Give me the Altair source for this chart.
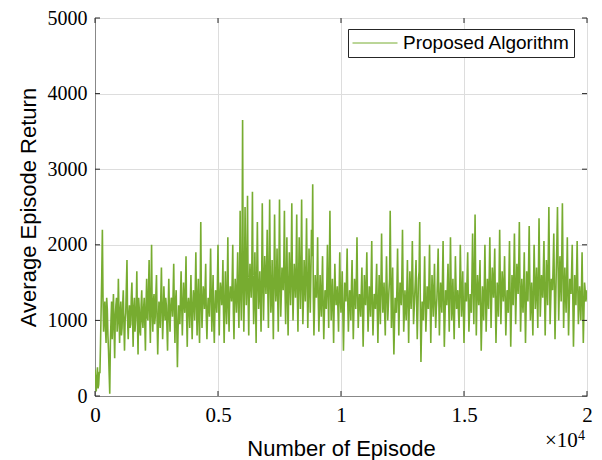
import altair as alt
import pandas as pd

returns = [
    350, 60, 380, 150, 300, 1150, 2200, 850, 1250, 700, 1150, 600, 30, 1000, 750, 1350, 500, 1200, 850, 1550,
    700, 1250, 900, 1400, 600, 1100, 1800, 750, 1200, 950, 1500, 650, 1300, 1000, 1650, 550, 1150, 800, 1400, 900,
    1300, 600, 1550, 1000, 1800, 700, 2000, 850, 1350, 1050, 1600, 550, 1250, 900, 1700, 750, 1450, 1000, 1200, 600,
    1550, 850, 1300, 1050, 1750, 700, 1400, 380, 1200, 950, 1650, 800, 1500, 1100, 1850, 650, 1300, 900, 1600, 750,
    1400, 1000, 1900, 800, 1550, 700, 2300, 900, 1450, 1150, 1750, 750, 1300, 1050, 1950, 850, 1600, 700, 1400, 1100,
    2000, 800, 1500, 1200, 1800, 700, 1650, 950, 2100, 850, 1450, 1250, 2000, 750, 1550, 1100, 1900, 900, 2450, 1000,
    3650, 850, 2500, 1200, 2650, 800, 1750, 1300, 2700, 950, 1900, 700, 2300, 1150, 1650, 850, 2550, 1000, 1850, 1350,
    2200, 900, 2600, 1100, 1800, 750, 2400, 1250, 1950, 850, 2600, 1050, 1700, 1400, 2450, 950, 2100, 800, 1900, 1200,
    2550, 1000, 1750, 1300, 2400, 850, 2100, 1150, 2600, 950, 1800, 1250, 2350, 900, 1950, 1100, 2200, 2800, 800, 1600,
    1300, 2100, 850, 1600, 1050, 1850, 750, 1400, 1150, 2000, 900, 2450, 1000, 1550, 700, 1750, 1200, 1450, 850, 1900,
    1100, 1650, 600, 1500, 1250, 1950, 850, 1400, 1000, 1800, 750, 1550, 1150, 2100, 900, 1350, 1050, 1700, 650, 1600,
    1200, 1900, 850, 1450, 1050, 2050, 800, 1350, 1150, 1750, 700, 1600, 950, 2150, 1100, 1500, 800, 1850, 1000, 1400,
    2450, 900, 1700, 550, 1300, 1100, 1950, 800, 1500, 1200, 2200, 850, 1400, 1000, 1800, 700, 1650, 1150, 2050, 950,
    1350, 1800, 750, 1550, 2300, 450, 1250, 1000, 1850, 850, 1450, 1150, 2000, 700, 1600, 1050, 1750, 900, 1300, 1950,
    800, 1500, 1100, 2050, 650, 1400, 1200, 1750, 850, 2100, 1000, 1550, 750, 1850, 1150, 1400, 900, 2000, 1050, 1650,
    700, 1500, 1250, 1900, 850, 1350, 1100, 2150, 950, 2400, 800, 1600, 1200, 1800, 600, 1450, 1000, 2000, 850, 1550,
    1150, 2100, 900, 1700, 1300, 1950, 700, 1500, 1050, 2200, 950, 1650, 1250, 1850, 800, 1400, 1100, 2050, 650, 1600,
    1200, 2150, 950, 1750, 1350, 2300, 850, 1550, 1100, 1900, 700, 1650, 1250, 2250, 1000, 1500, 800, 2000, 1150, 1700,
    900, 2350, 1050, 1600, 1300, 2050, 800, 1800, 1200, 2500, 950, 1550, 1400, 2150, 750, 1650, 2500, 1000, 1850, 1250,
    2550, 900, 1700, 1100, 2100, 800, 1550, 1350, 2000, 650, 1600, 1200, 2050, 950, 1450, 1000, 1900, 700, 1500, 1250,
    1400,
]
# Returns read between the samples above (episodes 25, 75, 125, ...)
returns_between = [
    200, 250, 100, 320, 700, 1600, 1300, 1100, 900, 1300, 800, 300, 700, 1250, 1050, 900, 1050, 1300, 1000, 1100,
    1100, 800, 1200, 950, 1000, 1450, 1000, 1050, 900, 1300, 1050, 1150, 850, 1200, 1000, 1300, 850, 1200, 1000, 1150,
    950, 1200, 1050, 1400, 1100, 1300, 1100, 1250, 950, 1350, 1000, 950, 1100, 1300, 1150, 1050, 1200, 1300, 900, 1150,
    1100, 1150, 1250, 1350, 1100, 1250, 900, 850, 1100, 1300, 1200, 1150, 1250, 1400, 1050, 1200, 1150, 1250, 1100, 1150,
    1250, 1400, 1200, 1300, 1000, 1350, 1250, 1200, 1350, 1400, 1050, 1100, 1200, 1450, 1300, 1250, 1000, 1150, 1300, 1450,
    1250, 1300, 1400, 1350, 1100, 1200, 1250, 1400, 1200, 1300, 1400, 1500, 1100, 1300, 1350, 1450, 1250, 1500, 1350, 1600,
    1500, 1400, 1700, 1650, 1300, 1450, 1500, 1700, 1450, 1300, 1250, 1600, 1550, 1350, 1300, 1500, 1650, 1450, 1600, 1650,
    1400, 1650, 1550, 1300, 1250, 1500, 1600, 1450, 1350, 1600, 1550, 1350, 1600, 1750, 1400, 1500, 1300, 1450, 1550, 1700,
    1500, 1400, 1550, 1700, 1350, 1500, 1600, 1700, 1450, 1300, 1550, 1700, 1500, 1350, 1550, 1600, 1850, 1300, 1200, 1350,
    1500, 1300, 1200, 1250, 1450, 1200, 1100, 1300, 1500, 1350, 1600, 1450, 1300, 1150, 1250, 1400, 1300, 1150, 1400, 1300,
    1350, 1100, 1050, 1400, 1550, 1250, 1150, 1300, 1450, 1200, 1150, 1400, 1550, 1350, 1150, 1250, 1400, 1150, 1100, 1350,
    1500, 1250, 1150, 1300, 1550, 1200, 1100, 1300, 1450, 1150, 1200, 1300, 1500, 1450, 1300, 1100, 1350, 1400, 1200, 1550,
    1550, 1300, 1000, 950, 1200, 1450, 1300, 1200, 1350, 1600, 1400, 1100, 1200, 1350, 1250, 1200, 1400, 1500, 1450, 1150,
    1550, 1200, 1150, 1650, 1200, 900, 1150, 1400, 1300, 1100, 1350, 1500, 1250, 1200, 1350, 1400, 1250, 1150, 1600, 1300,
    1200, 1300, 1550, 1250, 1000, 1300, 1450, 1250, 1400, 1500, 1200, 1100, 1250, 1450, 1250, 1100, 1400, 1500, 1300, 1150,
    1100, 1400, 1550, 1300, 1100, 1200, 1600, 1450, 1600, 1500, 1250, 1400, 1450, 1150, 1000, 1250, 1450, 1350, 1200, 1300,
    1600, 1450, 1300, 1500, 1600, 1250, 1100, 1300, 1550, 1500, 1300, 1450, 1500, 1300, 1100, 1250, 1550, 1300, 1100, 1400,
    1650, 1500, 1350, 1550, 1750, 1500, 1200, 1300, 1450, 1250, 1150, 1450, 1700, 1550, 1200, 1150, 1400, 1550, 1400, 1300,
    1600, 1650, 1300, 1450, 1650, 1350, 1300, 1500, 1800, 1650, 1250, 1500, 1750, 1400, 1200, 2000, 1700, 1400, 1550, 1850,
    1650, 1300, 1400, 1550, 1400, 1150, 1450, 1650, 1250, 1100, 1400, 1600, 1450, 1200, 1250, 1400, 1250, 1100, 1400, 1300,
]
episode_step = 50
x_ticks = [0, 5000, 10000, 15000, 20000]
y_ticks = [0, 1000, 2000, 3000, 4000, 5000]
series_name = "Proposed Algorithm"

W, H = 492, 378
GREEN = "#77AC30"
DARK = "#262626"
SERIF = "Liberation Serif"
SANS = "Liberation Sans"

episodes, values = [], []
for i, v in enumerate(returns):
    episodes.append(i * episode_step)
    values.append(v)
    if i < len(returns_between):
        episodes.append(i * episode_step + episode_step // 2)
        values.append(returns_between[i])

df = pd.DataFrame({"episode": episodes, "ret": values, "series": series_name})

xscale = alt.Scale(domain=[0, 20000], nice=False, zero=False)
yscale = alt.Scale(domain=[0, 5000], nice=False)

line = alt.Chart(df).mark_line(strokeWidth=1.6, clip=True).encode(
    x=alt.X("episode:Q", scale=xscale,
            axis=alt.Axis(values=x_ticks, labelExpr="datum.value / 10000",
                          title="Number of Episode", ticks=False, labelFlush=False,
                          labelFont=SERIF, labelFontSize=21,
                          labelPadding=8, titlePadding=13,
                          titleFont=SANS, titleFontSize=22,
                          titleFontWeight="normal", titleColor="black",
                          labelColor="black", grid=True)),
    y=alt.Y("ret:Q", scale=yscale,
            axis=alt.Axis(values=y_ticks, format="d", title="Average Episode Return",
                          ticks=False, labelFlush=False,
                          labelFont=SERIF, labelFontSize=20,
                          labelPadding=8, titlePadding=7,
                          titleFont=SANS, titleFontSize=22,
                          titleFontWeight="normal", titleColor="black",
                          labelColor="black", grid=True)),
    color=alt.Color("series:N", scale=alt.Scale(range=[GREEN]),
                    legend=alt.Legend(title=None, orient="none", legendX=253, legendY=11,
                                      symbolType="stroke", symbolSize=2025,
                                      symbolStrokeWidth=1, labelFont=SANS,
                                      labelFontSize=19, labelColor="black",
                                      labelLimit=400,
                                      strokeColor=DARK, fillColor="white",
                                      padding=4, labelOffset=5, clipHeight=20)),
)

xt = pd.DataFrame({"episode": x_ticks})
yt = pd.DataFrame({"ret": y_ticks})

xb = alt.Chart(xt).mark_rule(color=DARK, strokeWidth=1).encode(
    x=alt.X("episode:Q", scale=xscale), y=alt.value(H), y2=alt.value(H - 5))
xtop = alt.Chart(xt).mark_rule(color=DARK, strokeWidth=1).encode(
    x=alt.X("episode:Q", scale=xscale), y=alt.value(0), y2=alt.value(5))
yl = alt.Chart(yt).mark_rule(color=DARK, strokeWidth=1).encode(
    y=alt.Y("ret:Q", scale=yscale), x=alt.value(0), x2=alt.value(5))
yr = alt.Chart(yt).mark_rule(color=DARK, strokeWidth=1).encode(
    y=alt.Y("ret:Q", scale=yscale), x=alt.value(W), x2=alt.value(W - 5))

exp_base = alt.Chart(pd.DataFrame({"t": ["×10"]})).mark_text(
    font=SERIF, fontSize=21, align="left", baseline="alphabetic", color="black"
).encode(text="t:N", x=alt.value(450), y=alt.value(429))
exp_pow = alt.Chart(pd.DataFrame({"t": ["4"]})).mark_text(
    font=SERIF, fontSize=14, align="left", baseline="alphabetic", color="black"
).encode(text="t:N", x=alt.value(483), y=alt.value(422))

chart = alt.layer(line, xb, xtop, yl, yr, exp_base, exp_pow).properties(
    width=W, height=H,
    autosize=alt.AutoSizeParams(type="none"),
    padding={"left": 87, "top": 10, "right": 7, "bottom": 64},
).configure_view(stroke=DARK, strokeWidth=1).configure_axis(
    gridColor="#dfdfdf", gridWidth=1, domainColor=DARK
).configure(background="white")

chart.save("out.html", embed_options={"renderer": "svg", "actions": False})
